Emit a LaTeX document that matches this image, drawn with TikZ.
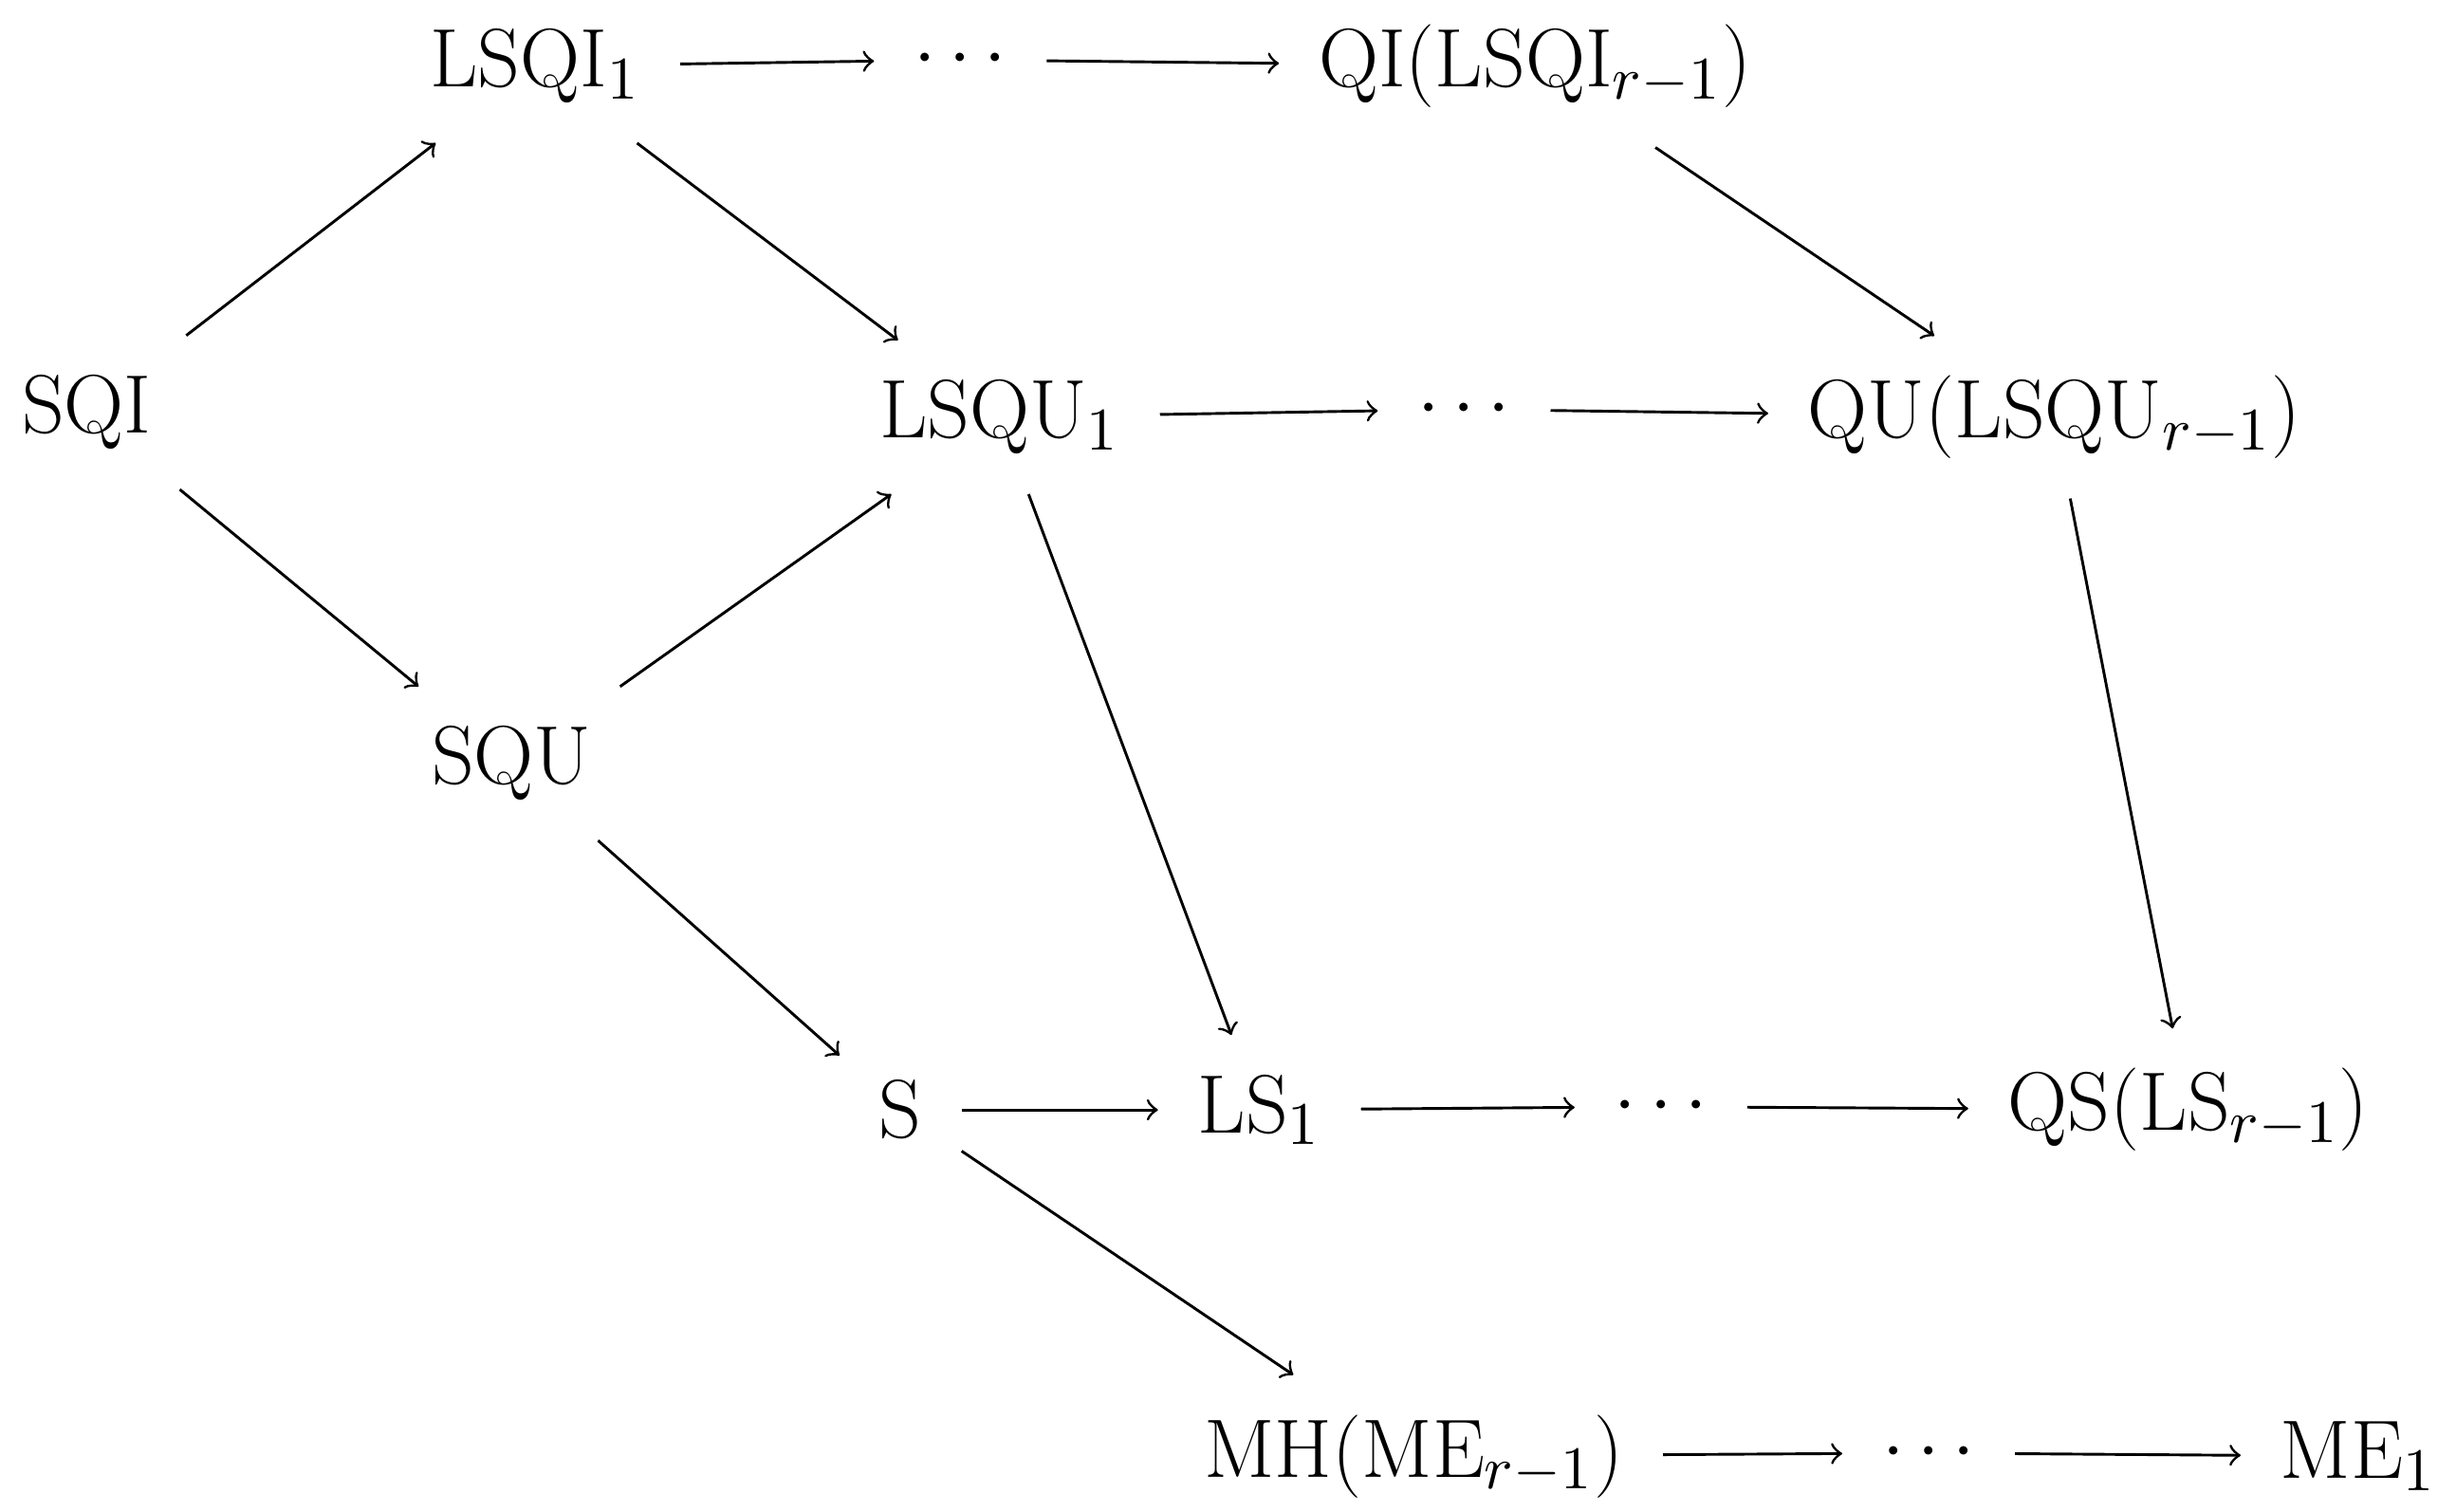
\documentclass[tikz,border=0pt]{standalone}
\begin{document}
\begin{tikzpicture}[x=0.01cm,y=-0.01cm,font=\fontsize{15}{18}\selectfont,
  n/.style={inner sep=7pt},
  a/.style={->,line width=0.5pt}]
\useasboundingbox (0,0) rectangle (1560,960);
\node[n] (SQI) at (55,262) {SQI};
\node[n] (LSQI) at (340,42) {LSQI$_1$};
\node[n] (d1) at (610,38) {$\cdots$};
\node[n] (QI) at (975,42) {QI(LSQI$_{r-1}$)};
\node[n] (LSQU) at (635,265) {LSQU$_1$};
\node[n] (d2) at (930,260) {$\cdots$};
\node[n] (QU) at (1305,265) {QU(LSQU$_{r-1}$)};
\node[n] (SQU) at (325,485) {SQU};
\node[n] (S) at (572,705) {S};
\node[n] (LS) at (800,705) {LS$_1$};
\node[n] (d3) at (1055,703) {$\cdots$};
\node[n] (QS) at (1390,705) {QS(LS$_{r-1}$)};
\node[n] (MH) at (898,925) {MH(ME$_{r-1}$)};
\node[n] (d4) at (1225,923) {$\cdots$};
\node[n] (ME) at (1498,925) {ME$_1$};
\draw[a] (SQI) -- (LSQI);
\draw[a] (SQI) -- (SQU);
\draw[a] (LSQI) -- (d1);
\draw[a] (d1) -- (QI);
\draw[a] (LSQI) -- (LSQU);
\draw[a] (QI) -- (QU);
\draw[a] (SQU) -- (LSQU);
\draw[a] (LSQU) -- (d2);
\draw[a] (d2) -- (QU);
\draw[a] (LSQU) -- (LS);
\draw[a] (QU) -- (QS);
\draw[a] (SQU) -- (S);
\draw[a] (S) -- (LS);
\draw[a] (LS) -- (d3);
\draw[a] (d3) -- (QS);
\draw[a] (S) -- (MH);
\draw[a] (MH) -- (d4);
\draw[a] (d4) -- (ME);
\end{tikzpicture}
\end{document}
